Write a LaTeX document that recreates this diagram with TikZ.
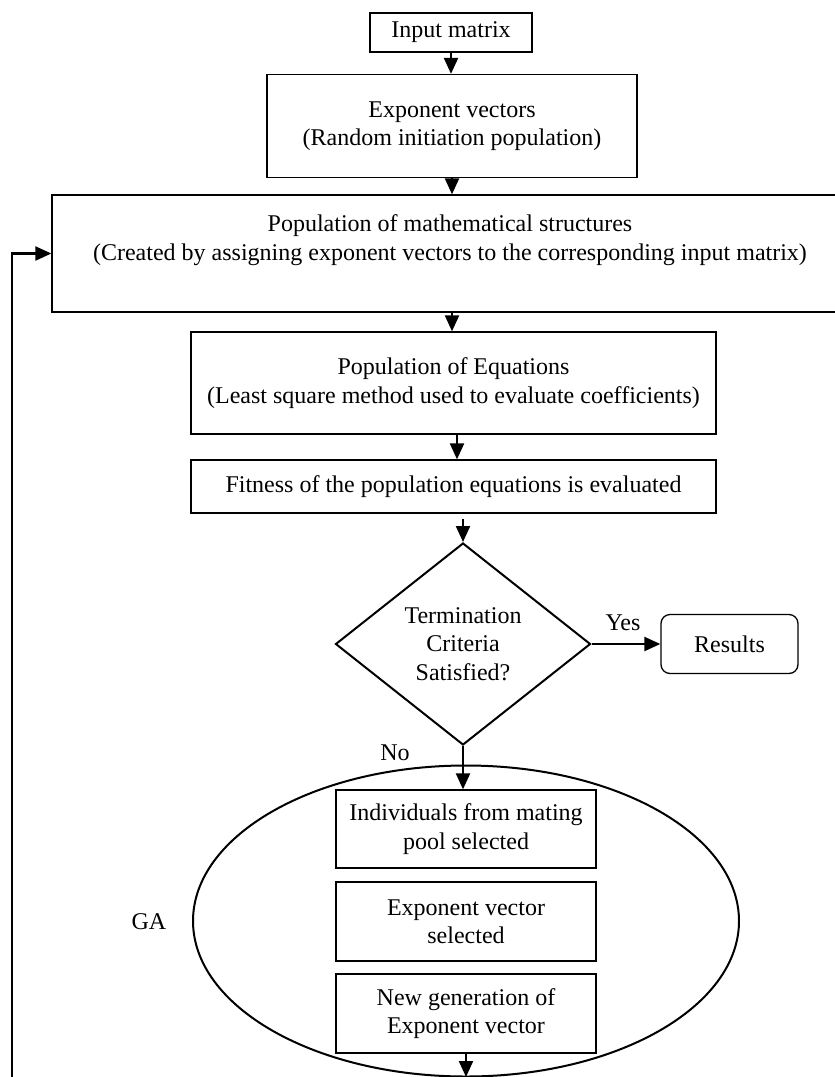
\documentclass[tikz,border=0pt]{standalone}
\usepackage{fontspec}
\setmainfont{Liberation Serif}
\usetikzlibrary{arrows.meta,shapes.geometric}
\begin{document}
\begin{tikzpicture}[x=1pt,y=-1pt,
  font=\fontsize{24}{28.5}\selectfont,
  box/.style={draw, line width=1.3pt, inner sep=0pt, align=center},
  arr/.style={line width=2.2pt, -{Triangle[length=16pt,width=14pt]}},
]
\useasboundingbox (0,0) rectangle (835,1077);
% GA ellipse (behind)
\node[ellipse, draw, line width=2pt, minimum width=546pt, minimum height=311pt, inner sep=0pt] (ga) at (466,921) {};
% boxes
\node[box, minimum width=162pt, minimum height=39pt] (inp) at (451,32.5) {Input matrix};
\node[box, minimum width=370pt, minimum height=103pt] (exp) at (452,126) {Exponent vectors\\(Random initiation population)};
\node[box, minimum width=790pt, minimum height=117pt] (pop) at (447,253.5) {};
\node[align=center, inner sep=0pt] (popt) at (450,240) {Population of mathematical structures\\(Created by assigning exponent vectors to the corresponding input matrix)};
\node[box, minimum width=525pt, minimum height=102pt] (peq) at (453.5,383) {Population of Equations\\(Least square method used to evaluate coefficients)};
\node[box, minimum width=525pt, minimum height=53pt] (fit) at (453.5,486.5) {Fitness of the population equations is evaluated};
\node[diamond, draw, line width=2pt, aspect=1.26, minimum width=255pt, minimum height=202pt, inner sep=0pt, align=center] (dia) at (463,644) {Termination\\Criteria\\Satisfied?};
\node[box, rounded corners=9pt, minimum width=137pt, minimum height=59pt] (res) at (729.5,644) {Results};
\node[box, minimum width=260pt, minimum height=78pt] (ind) at (466,829) {Individuals from mating\\pool selected};
\node[box, minimum width=260pt, minimum height=79pt] (esel) at (466,921.5) {Exponent vector\\selected};
\node[box, minimum width=260pt, minimum height=79pt] (ngen) at (466,1013.5) {New generation of\\Exponent vector};
% labels
\node (galabel) at (149,922) {GA};
\node (yes) at (623,623) {Yes};
\node (no) at (395,753) {No};
\coordinate (fbstart) at (12,1090);
\coordinate (gaout) at (466,1077);
% connectors
\draw[arr] (inp.south) -- (inp.south |- exp.north);
\draw[arr] (exp.south) -- (exp.south |- pop.north);
\draw[arr] (pop.south -| exp.south) -- (peq.north -| exp.south);
\draw[arr] ([xshift=3.5pt]peq.south) -- ([xshift=3.5pt]fit.north);
\draw[arr, shorten <=5pt] (fit.south -| dia.north) -- (dia.north);
\draw[arr] (dia.east) -- (dia.east -| res.west);
\draw[arr] (dia.south) -- (dia.south |- ind.north);
\draw[arr] (ngen.south) -- (gaout);
\draw[arr] (fbstart) |- (pop.west);
\end{tikzpicture}
\end{document}
